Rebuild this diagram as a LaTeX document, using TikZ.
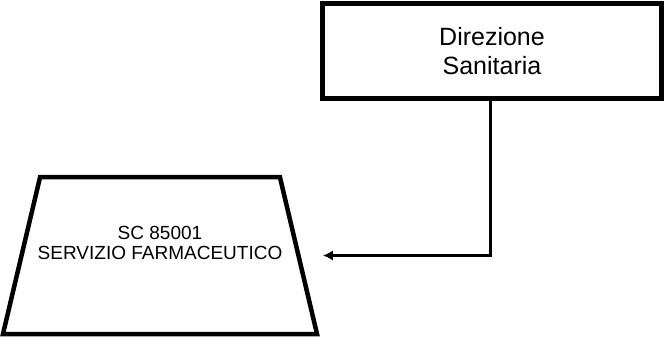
\documentclass[tikz,border=0pt]{standalone}
\usepackage{fontspec}
\setmainfont{Liberation Sans}
\usetikzlibrary{arrows.meta,positioning,shapes.geometric}

\begin{document}
\begin{tikzpicture}[
    x=1pt, y=-1pt,
    dirbox/.style={draw, line width=5pt, minimum width=339pt,
                   minimum height=95pt, align=center, inner sep=0pt,
                   font=\fontsize{25}{29}\selectfont},
    unit/.style={draw, trapezium, line width=4.5pt, trapezium angle=76.7,
                 inner xsep=119.9pt, inner ysep=72.5pt},
    unittext/.style={align=center, inner sep=0pt,
                     font=\fontsize{19}{20}\selectfont},
    link/.style={-{Latex[length=10pt,width=10pt]}, line width=3pt}
  ]
    \useasboundingbox (0,0) rectangle (664,338);

    \node[dirbox] (dir) at (492,51) {Direzione\\Sanitaria};
    \node[unit] (farm) at (160,255.5) {\strut};
    \node[unittext] (farmtxt) at (160,243) {SC 85001\\SERVIZIO FARMACEUTICO};

    \draw[link, shorten >=22pt] ([xshift=-2pt]dir.south) |- (farm.east);
  \end{tikzpicture}
\end{document}
